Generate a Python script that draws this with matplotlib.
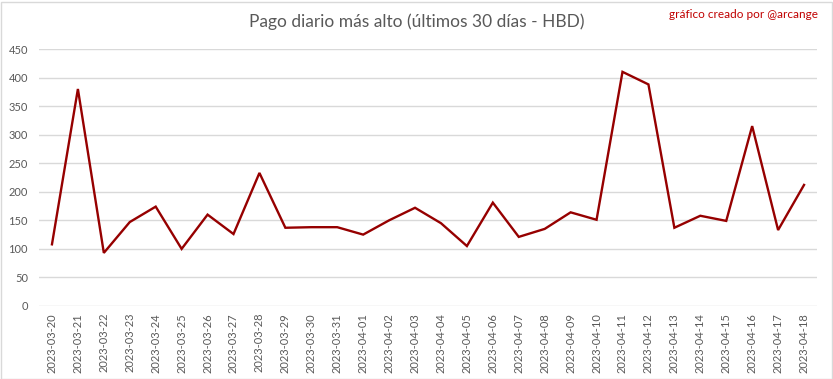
import matplotlib
matplotlib.use('Agg')
import matplotlib.pyplot as plt
from matplotlib.patches import Rectangle

# fechas y pago diario mas alto (HBD)
dates = ['2023-03-20', '2023-03-21', '2023-03-22', '2023-03-23', '2023-03-24',
         '2023-03-25', '2023-03-26', '2023-03-27', '2023-03-28', '2023-03-29',
         '2023-03-30', '2023-03-31', '2023-04-01', '2023-04-02', '2023-04-03',
         '2023-04-04', '2023-04-05', '2023-04-06', '2023-04-07', '2023-04-08',
         '2023-04-09', '2023-04-10', '2023-04-11', '2023-04-12', '2023-04-13',
         '2023-04-14', '2023-04-15', '2023-04-16', '2023-04-17', '2023-04-18']
pago = [108, 380, 93, 147, 174, 100, 160, 126, 233, 137,
        138, 138, 125, 150, 172, 145, 105, 181, 121, 135,
        164, 151, 410, 388, 137, 158, 149, 315, 133, 212]
yticks = [0, 50, 100, 150, 200, 250, 300, 350, 400, 450]

plt.rcParams['font.family'] = ['Lato', 'DejaVu Sans']

fig = plt.figure(figsize=(8.33, 3.79), dpi=100)
ax = fig.add_axes([39 / 833, 1 - 306 / 379, 778 / 833, 257 / 379])

x = list(range(len(dates)))
ax.plot(x, pago, color='#960000', lw=1.7, solid_joinstyle='miter')

ax.set_xlim(-0.5, len(dates) - 0.5)
ax.set_ylim(0, 450)
ax.set_yticks(yticks)
ax.set_xticks(x)
ax.set_xticklabels(dates, rotation=90)
ax.grid(axis='y', color='#d9d9d9', lw=1)
ax.set_axisbelow(True)
for s in ax.spines.values():
    s.set_visible(False)
ax.tick_params(length=0, colors='#595959', labelsize=8)
ax.tick_params(axis='x', pad=5)
ax.tick_params(axis='y', pad=8)

fig.text(0.5, 1 - 22 / 379, 'Pago diario más alto (últimos 30 días - HBD)',
         ha='center', va='center', fontsize=12.5, color='#595959')
fig.text(818 / 833, 1 - 15 / 379, 'gráfico creado por @arcange',
         ha='right', va='center', fontsize=8.5, color='#c00000')

fig.patches.append(Rectangle((0.5 / 833, 0.5 / 379), 831 / 833, 377 / 379,
                             transform=fig.transFigure, fill=False,
                             edgecolor='#d9d9d9', lw=1))

fig.savefig('out.png', dpi=100, facecolor='white')
